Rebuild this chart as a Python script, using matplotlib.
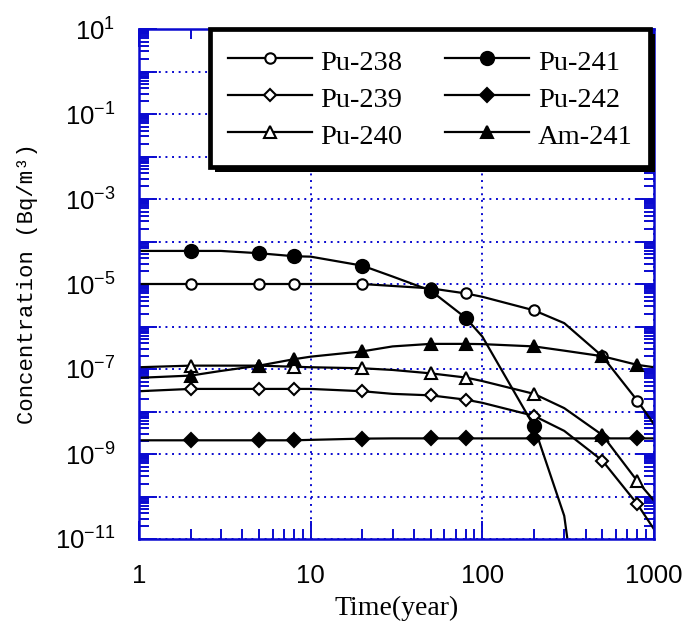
import numpy as np
import matplotlib
matplotlib.use("Agg")
import matplotlib.pyplot as plt
from matplotlib.lines import Line2D
from matplotlib.ticker import LogLocator, FuncFormatter, NullFormatter, FixedLocator
import matplotlib.patheffects as pe

# ---- data ----
time = [1, 2, 3, 5, 8, 10, 20, 30, 50, 80, 100, 200, 300, 500, 800, 1000]
marker_idx = [1, 3, 4, 6, 8, 9, 11, 13, 14]   # points that carry symbols (2,5,8,20,50,80,200,500,800)

pu238 = [1e-5, 1e-5, 1e-5, 1e-5, 1e-5, 1e-5, 1e-5, 9e-6, 7.9e-6, 6e-6, 5e-6, 2.4e-6, 1.2e-6, 2e-7, 1.8e-8, 5e-9]
pu239 = [3e-8, 3.4e-8, 3.4e-8, 3.4e-8, 3.4e-8, 3.4e-8, 3e-8, 2.6e-8, 2.4e-8, 1.9e-8, 1.6e-8, 7.9e-9, 3.5e-9, 7e-10, 6.6e-11, 1.7e-11]
pu240 = [1.1e-7, 1.2e-7, 1.2e-7, 1.2e-7, 1.13e-7, 1.1e-7, 1.04e-7, 9.5e-8, 7.9e-8, 6.3e-8, 5.2e-8, 2.6e-8, 1.2e-8, 2.8e-9, 2.3e-10, 8e-11]
pu241 = [6e-5, 6e-5, 6e-5, 5.3e-5, 4.5e-5, 4.4e-5, 2.7e-5, 1.5e-5, 7e-6, 1.6e-6, 5.8e-7, 4.5e-9, 3.5e-11, 1e-17, 1e-20, 1e-21]
pu242 = [2.1e-9, 2.1e-9, 2.1e-9, 2.1e-9, 2.1e-9, 2.15e-9, 2.3e-9, 2.33e-9, 2.33e-9, 2.33e-9, 2.33e-9, 2.33e-9, 2.33e-9, 2.33e-9, 2.33e-9, 2.33e-9]
am241 = [6.2e-8, 7e-8, 9e-8, 1.2e-7, 1.7e-7, 1.95e-7, 2.6e-7, 3.4e-7, 3.9e-7, 3.9e-7, 3.85e-7, 3.4e-7, 2.7e-7, 2e-7, 1.25e-7, 1.1e-7]

labels = ["Pu-238", "Pu-239", "Pu-240", "Pu-241", "Pu-242", "Am-241"]
x_ticks = [1, 10, 100, 1000]
x_tick_labels = ["1", "10", "100", "1000"]
xlabel = "Time(year)"
ylabel = "Concentration (Bq/m\u00b3)"

# ---- style ----
series = [pu238, pu239, pu240, pu241, pu242, am241]
markers = ['o', 'D', '^', 'o', 'D', '^']
msizes = [7.5, 6.5, 9, 9.5, 7, 9]
faces = ['white', 'white', 'white', 'black', 'black', 'black']

BLUE = '#0a0ad0'
sans = ['Liberation Sans', 'DejaVu Sans']
serif = ['Liberation Serif', 'DejaVu Serif']

fig = plt.figure(figsize=(6.84, 6.27), dpi=100)
ax = fig.add_axes([139 / 684, 1 - 539 / 627, 515 / 684, 510 / 627])

for s, m, ms, fc in zip(series, markers, msizes, faces):
    ax.plot(time, s, color='black', lw=1.6, marker=m, ms=ms, mfc=fc, mec='black',
            mew=1.5, markevery=marker_idx, zorder=3)

ax.set_xscale('log')
ax.set_yscale('log')
ax.set_xlim(1, 1000)
ax.set_ylim(1e-11, 1e1)

# spines
for sp in ax.spines.values():
    sp.set_color(BLUE)
    sp.set_linewidth(1.8)
    sp.set_zorder(5)

# ticks
ax.xaxis.set_major_locator(FixedLocator(x_ticks))
ax.xaxis.set_major_formatter(FuncFormatter(lambda v, p: x_tick_labels[x_ticks.index(int(round(v)))] if int(round(v)) in x_ticks else ''))
ax.xaxis.set_minor_locator(LogLocator(base=10, subs=np.arange(2, 10), numticks=20))
ax.xaxis.set_minor_formatter(NullFormatter())

ax.yaxis.set_major_locator(LogLocator(base=10, numticks=30))
def yfmt(v, p):
    e = int(round(np.log10(v)))
    if e % 2 == 1 or e % 2 == -1:
        return r'$\mathregular{10^{%d}}$' % e
    return ''
ax.yaxis.set_major_formatter(FuncFormatter(yfmt))
ax.yaxis.set_minor_locator(LogLocator(base=10, subs=[2, 3, 4, 5, 6, 7, 7.5, 8, 8.5, 9, 9.5], numticks=30))
ax.yaxis.set_minor_formatter(NullFormatter())

ax.tick_params(which='both', direction='in', top=True, right=True, color=BLUE, width=1.4)
ax.tick_params(which='major', length=13)
ax.tick_params(which='minor', length=7.5)
ax.tick_params(axis='y', which='major', pad=17)
ax.tick_params(axis='x', which='major', pad=18)
for lab in ax.get_xticklabels() + ax.get_yticklabels():
    lab.set_fontfamily(sans)
    lab.set_fontsize(18.5)

# grid
ax.grid(True, which='major', color=BLUE, linestyle=(0, (1, 2.4)), linewidth=1.4)
ax.set_axisbelow(True)

ax.set_xlabel(xlabel, family=serif, fontsize=20, labelpad=6)
ax.set_ylabel(ylabel, family=['Liberation Mono', 'DejaVu Sans Mono'], fontsize=16, labelpad=12)

# legend
handles = [Line2D([], [], color='black', lw=1.6, marker=m, ms=ms, mfc=fc, mec='black', mew=1.5)
           for m, ms, fc in zip(markers, msizes, faces)]
leg = ax.legend(handles, labels, ncol=2, loc='upper right', bbox_to_anchor=(0.993, 1.0),
                borderaxespad=0, prop={'family': serif, 'size': 20.5}, numpoints=1,
                handlelength=2.95, handleheight=1.1, handletextpad=0.3, columnspacing=1.5,
                labelspacing=0.26, borderpad=0.62, fancybox=False, framealpha=1, edgecolor='black')
leg.set_zorder(6)
frame = leg.get_frame()
frame.set_linewidth(3.4)
frame.set_path_effects([pe.SimplePatchShadow(offset=(3.6, -3.6), shadow_rgbFace='black', alpha=1.0),
                        pe.Normal()])

fig.savefig('out.png', dpi=100)
